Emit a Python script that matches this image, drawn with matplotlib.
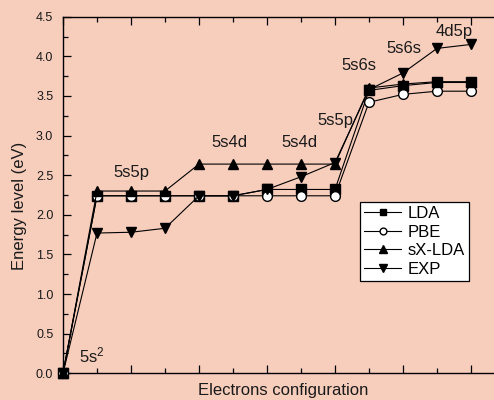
import matplotlib
matplotlib.use("Agg")
import matplotlib.pyplot as plt
from matplotlib.ticker import MultipleLocator

plt.rcParams['font.family'] = ['Liberation Sans', 'DejaVu Sans']
plt.rcParams['mathtext.default'] = 'regular'

# ---- data ----
config_index = list(range(13))
lda = [0.0, 2.24, 2.24, 2.24, 2.24, 2.24, 2.32, 2.32, 2.32, 3.57, 3.63, 3.67, 3.67]
pbe = [0.0, 2.24, 2.24, 2.24, 2.24, 2.24, 2.24, 2.24, 2.24, 3.42, 3.52, 3.56, 3.56]
sx_lda = [0.0, 2.30, 2.30, 2.30, 2.64, 2.64, 2.64, 2.64, 2.64, 3.60, 3.65, 3.68, 3.68]
exp = [0.0, 1.77, 1.78, 1.83, 2.24, 2.24, 2.32, 2.48, 2.66, 3.58, 3.79, 4.10, 4.15]

series_names = ["LDA", "PBE", "sX-LDA", "EXP"]

annot_texts = ["5s$^{2}$", "5s5p", "5s4d", "5s4d", "5s5p", "5s6s", "5s6s", "4d5p"]
annot_x = [0.47, 2.0, 4.91, 6.94, 8.0, 8.71, 10.04, 11.5]
annot_y = [0.14, 2.48, 2.86, 2.85, 3.13, 3.83, 4.04, 4.26]

bg = '#F7CDBC'

fig = plt.figure(figsize=(4.94, 4.0), dpi=100, facecolor=bg)
ax = fig.add_axes([63/494, (400-373.3)/400, (505-63)/494, 356.6/400])
ax.set_facecolor(bg)

lw = 0.8
ms = 7
ax.plot(config_index, lda, '-', color='black', lw=lw, marker='s', ms=ms-0.5,
        mfc='black', mec='black', label=series_names[0], clip_on=False, zorder=3)
ax.plot(config_index, pbe, '-', color='black', lw=lw, marker='o', ms=ms,
        mfc='white', mec='black', mew=1.0, label=series_names[1], clip_on=False, zorder=3)
ax.plot(config_index, sx_lda, '-', color='black', lw=lw, marker='^', ms=ms+0.5,
        mfc='black', mec='black', label=series_names[2], clip_on=False, zorder=3)
ax.plot(config_index, exp, '-', color='black', lw=lw, marker='v', ms=ms+0.5,
        mfc='black', mec='black', label=series_names[3], clip_on=False, zorder=3)

for t, x, y in zip(annot_texts, annot_x, annot_y):
    ax.text(x, y, t, fontsize=12, ha='left' if t.startswith('5s$') else 'center',
            va='baseline', color='#1a1a1a')

ax.set_xlim(0, 13)
ax.set_ylim(0, 4.5)
ax.xaxis.set_major_locator(MultipleLocator(2))
ax.xaxis.set_minor_locator(MultipleLocator(1))
ax.yaxis.set_minor_locator(MultipleLocator(0.25))
yt = [0, 0.5, 1.0, 1.5, 2.0, 2.5, 3.0, 3.5, 4.0, 4.5]
ax.set_yticks(yt)
ax.set_yticklabels([f"{v:.1f}" for v in yt])
ax.tick_params(axis='both', which='both', direction='in', top=True, right=True,
               labelbottom=False, labelsize=9, labelcolor='#1a1a1a', width=0.9)
ax.tick_params(axis='both', which='major', length=6, pad=7)
ax.tick_params(axis='both', which='minor', length=3.5)

for sp in ax.spines.values():
    sp.set_linewidth(1.0)

ax.set_xlabel("Electrons configuration", fontsize=12, va='baseline', color='#1a1a1a')
ax.xaxis.set_label_coords(0.498, (373.3-395.5)/356.6)
ax.set_ylabel("Energy level (eV)", fontsize=12, va='center', color='#1a1a1a')
ax.yaxis.set_label_coords((19-63)/442, 0.469)

leg = ax.legend(loc='upper left', bbox_to_anchor=((360-63)/442, (373.3-201.7)/356.6),
                borderaxespad=0, fontsize=12, frameon=True, fancybox=False,
                edgecolor='black', facecolor='white', framealpha=1,
                handlelength=2.2, handletextpad=0.4, labelspacing=0.22,
                borderpad=0.25, markerscale=0.7)
leg.get_frame().set_linewidth(0.9)

fig.savefig("out.png", dpi=100, facecolor=bg)
